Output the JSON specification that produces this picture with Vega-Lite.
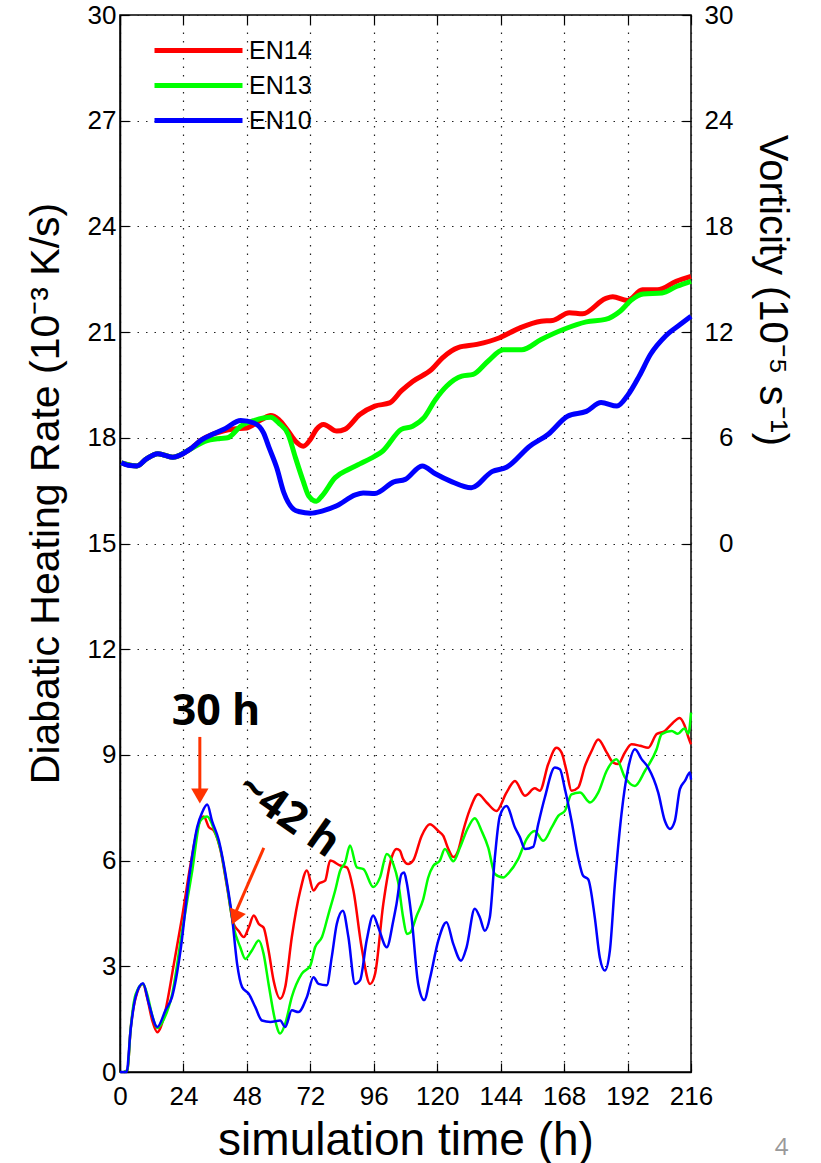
{
  "$schema": "https://vega.github.io/schema/vega-lite/v6.json",
  "width": 571,
  "height": 1057,
  "autosize": {"type": "none"},
  "padding": {"left": 120, "top": 15, "right": 130, "bottom": 91},
  "background": "white",
  "config": {
    "view": {"stroke": "black", "strokeWidth": 1.5},
    "font": "Liberation Sans",
    "axis": {
      "labelFont": "Liberation Sans",
      "labelFontSize": 26,
      "labelColor": "black",
      "labelFlush": false,
      "labelOverlap": false,
      "titleFont": "Liberation Sans",
      "titleFontWeight": "normal",
      "titleColor": "black",
      "domainColor": "black",
      "domainWidth": 1.5,
      "tickColor": "black",
      "tickWidth": 1.2,
      "tickSize": -9,
      "labelPadding": 12,
      "gridColor": "#222",
      "gridDash": [1.5, 7],
      "gridWidth": 1.2,
      "gridOpacity": 1
    },
    "legend": {"labelFont": "Liberation Sans"}
  },
  "datasets": {
    "heat": [
      {"run":"EN14","t":1.5,"v":0},{"run":"EN14","t":2.8,"v":0.05},{"run":"EN14","t":4,"v":1.2},{"run":"EN14","t":5.9,"v":2.1},{"run":"EN14","t":8.7,"v":2.5},{"run":"EN14","t":10.3,"v":2.1},{"run":"EN14","t":12.2,"v":1.46},{"run":"EN14","t":14.1,"v":1.13},{"run":"EN14","t":16.6,"v":1.56},{"run":"EN14","t":20.4,"v":3.07},{"run":"EN14","t":23.5,"v":4.4},{"run":"EN14","t":26.7,"v":5.9},{"run":"EN14","t":29.8,"v":7.04},{"run":"EN14","t":31.7,"v":7.25},{"run":"EN14","t":33.6,"v":6.95},{"run":"EN14","t":35.5,"v":6.85},{"run":"EN14","t":38,"v":6.3},{"run":"EN14","t":40.5,"v":5.25},{"run":"EN14","t":43,"v":4.2},{"run":"EN14","t":44.9,"v":4.0},{"run":"EN14","t":46.8,"v":3.83},{"run":"EN14","t":48.7,"v":4.1},{"run":"EN14","t":50.6,"v":4.44},{"run":"EN14","t":52.5,"v":4.2},{"run":"EN14","t":54.3,"v":4.1},{"run":"EN14","t":56.2,"v":3.45},{"run":"EN14","t":58.1,"v":2.6},{"run":"EN14","t":60.6,"v":2.08},{"run":"EN14","t":62.5,"v":2.41},{"run":"EN14","t":65,"v":3.83},{"run":"EN14","t":68.2,"v":5.15},{"run":"EN14","t":70.7,"v":5.72},{"run":"EN14","t":73.2,"v":5.15},{"run":"EN14","t":75.1,"v":5.34},{"run":"EN14","t":77.6,"v":5.43},{"run":"EN14","t":79.5,"v":6.0},{"run":"EN14","t":83.3,"v":5.86},{"run":"EN14","t":85.8,"v":5.81},{"run":"EN14","t":88.3,"v":5.15},{"run":"EN14","t":91.4,"v":3.54},{"run":"EN14","t":94.6,"v":2.5},{"run":"EN14","t":96.5,"v":2.79},{"run":"EN14","t":99.6,"v":4.77},{"run":"EN14","t":102.8,"v":6.1},{"run":"EN14","t":104.6,"v":6.33},{"run":"EN14","t":105.9,"v":6.28},{"run":"EN14","t":107.1,"v":6.04},{"run":"EN14","t":109,"v":5.9},{"run":"EN14","t":110.9,"v":6.0},{"run":"EN14","t":114.1,"v":6.7},{"run":"EN14","t":117.2,"v":7.03},{"run":"EN14","t":120.4,"v":6.84},{"run":"EN14","t":122.3,"v":6.7},{"run":"EN14","t":124.2,"v":6.33},{"run":"EN14","t":126.1,"v":6.1},{"run":"EN14","t":127.9,"v":6.28},{"run":"EN14","t":129.8,"v":6.84},{"run":"EN14","t":132.4,"v":7.46},{"run":"EN14","t":135.5,"v":7.88},{"run":"EN14","t":138.7,"v":7.65},{"run":"EN14","t":142.4,"v":7.41},{"run":"EN14","t":146.2,"v":7.93},{"run":"EN14","t":149.4,"v":8.26},{"run":"EN14","t":153.2,"v":7.84},{"run":"EN14","t":156.9,"v":8.05},{"run":"EN14","t":158.8,"v":7.98},{"run":"EN14","t":162,"v":8.74},{"run":"EN14","t":165.1,"v":9.2},{"run":"EN14","t":167,"v":9.07},{"run":"EN14","t":168.9,"v":8.55},{"run":"EN14","t":170.8,"v":7.98},{"run":"EN14","t":173.3,"v":8.07},{"run":"EN14","t":175.9,"v":8.69},{"run":"EN14","t":178.4,"v":9.11},{"run":"EN14","t":180.9,"v":9.44},{"run":"EN14","t":184.1,"v":9.07},{"run":"EN14","t":186.6,"v":8.78},{"run":"EN14","t":188.5,"v":8.74},{"run":"EN14","t":191,"v":9.07},{"run":"EN14","t":193.5,"v":9.3},{"run":"EN14","t":196.7,"v":9.26},{"run":"EN14","t":199.8,"v":9.2},{"run":"EN14","t":203,"v":9.59},{"run":"EN14","t":206.1,"v":9.68},{"run":"EN14","t":209,"v":9.9},{"run":"EN14","t":211.7,"v":10.05},{"run":"EN14","t":213.5,"v":9.85},{"run":"EN14","t":215,"v":9.5},{"run":"EN14","t":216,"v":9.3},
      {"run":"EN13","t":1.5,"v":0},{"run":"EN13","t":2.8,"v":0.05},{"run":"EN13","t":4,"v":1.2},{"run":"EN13","t":5.9,"v":2.2},{"run":"EN13","t":8.7,"v":2.5},{"run":"EN13","t":10.3,"v":2.2},{"run":"EN13","t":12.2,"v":1.6},{"run":"EN13","t":14.1,"v":1.25},{"run":"EN13","t":16.6,"v":1.5},{"run":"EN13","t":19.7,"v":2.2},{"run":"EN13","t":23.5,"v":4.0},{"run":"EN13","t":27.3,"v":5.7},{"run":"EN13","t":30.4,"v":7.13},{"run":"EN13","t":33,"v":7.25},{"run":"EN13","t":35.5,"v":6.9},{"run":"EN13","t":38,"v":6.33},{"run":"EN13","t":40.5,"v":5.29},{"run":"EN13","t":43,"v":4.11},{"run":"EN13","t":45.5,"v":3.54},{"run":"EN13","t":47.4,"v":3.21},{"run":"EN13","t":49.9,"v":3.45},{"run":"EN13","t":52.5,"v":3.73},{"run":"EN13","t":54.3,"v":3.36},{"run":"EN13","t":56.2,"v":2.5},{"run":"EN13","t":58.7,"v":1.46},{"run":"EN13","t":60.6,"v":1.09},{"run":"EN13","t":62.5,"v":1.37},{"run":"EN13","t":65,"v":2.13},{"run":"EN13","t":68.8,"v":2.79},{"run":"EN13","t":72,"v":3.02},{"run":"EN13","t":73.8,"v":3.54},{"run":"EN13","t":76.4,"v":3.83},{"run":"EN13","t":78.9,"v":4.49},{"run":"EN13","t":81.4,"v":5.15},{"run":"EN13","t":83.3,"v":5.72},{"run":"EN13","t":85.2,"v":5.95},{"run":"EN13","t":87,"v":6.43},{"run":"EN13","t":89.6,"v":5.81},{"run":"EN13","t":92.1,"v":5.76},{"run":"EN13","t":95.8,"v":5.25},{"run":"EN13","t":98.4,"v":5.53},{"run":"EN13","t":100.9,"v":6.19},{"run":"EN13","t":103.4,"v":5.9},{"run":"EN13","t":105.2,"v":5.4},{"run":"EN13","t":107.1,"v":4.39},{"run":"EN13","t":108.5,"v":3.92},{"run":"EN13","t":109.7,"v":3.95},{"run":"EN13","t":112.2,"v":4.43},{"run":"EN13","t":114.7,"v":4.9},{"run":"EN13","t":116.6,"v":5.52},{"run":"EN13","t":118.5,"v":5.85},{"run":"EN13","t":121,"v":6.0},{"run":"EN13","t":122.9,"v":6.33},{"run":"EN13","t":126.1,"v":5.98},{"run":"EN13","t":128.6,"v":6.37},{"run":"EN13","t":131.7,"v":6.94},{"run":"EN13","t":134.2,"v":7.2},{"run":"EN13","t":136.8,"v":6.84},{"run":"EN13","t":139.3,"v":6.37},{"run":"EN13","t":141.8,"v":5.62},{"run":"EN13","t":145,"v":5.52},{"run":"EN13","t":146.9,"v":5.64},{"run":"EN13","t":150.6,"v":6.04},{"run":"EN13","t":153.8,"v":6.61},{"run":"EN13","t":156.9,"v":6.84},{"run":"EN13","t":160.1,"v":6.56},{"run":"EN13","t":163.3,"v":6.94},{"run":"EN13","t":165.8,"v":7.27},{"run":"EN13","t":168.3,"v":7.41},{"run":"EN13","t":170.8,"v":7.88},{"run":"EN13","t":174,"v":7.93},{"run":"EN13","t":177.8,"v":7.65},{"run":"EN13","t":180.9,"v":7.93},{"run":"EN13","t":184.1,"v":8.55},{"run":"EN13","t":187.8,"v":8.88},{"run":"EN13","t":191,"v":8.36},{"run":"EN13","t":194.8,"v":8.12},{"run":"EN13","t":198.6,"v":8.55},{"run":"EN13","t":203,"v":9.16},{"run":"EN13","t":204.9,"v":9.59},{"run":"EN13","t":208.7,"v":9.68},{"run":"EN13","t":211,"v":9.6},{"run":"EN13","t":213.5,"v":9.75},{"run":"EN13","t":215,"v":9.6},{"run":"EN13","t":216,"v":10.2},
      {"run":"EN10","t":0,"v":0},{"run":"EN10","t":2.5,"v":0},{"run":"EN10","t":4,"v":1.18},{"run":"EN10","t":5.9,"v":2.13},{"run":"EN10","t":8.7,"v":2.52},{"run":"EN10","t":10.9,"v":1.94},{"run":"EN10","t":14.1,"v":1.28},{"run":"EN10","t":17.2,"v":1.75},{"run":"EN10","t":19.7,"v":2.13},{"run":"EN10","t":22.9,"v":3.45},{"run":"EN10","t":26,"v":5.43},{"run":"EN10","t":29.2,"v":6.95},{"run":"EN10","t":31.1,"v":7.37},{"run":"EN10","t":33,"v":7.59},{"run":"EN10","t":34.8,"v":7.13},{"run":"EN10","t":37.4,"v":6.57},{"run":"EN10","t":39.9,"v":5.62},{"run":"EN10","t":42.4,"v":4.39},{"run":"EN10","t":44.3,"v":3.07},{"run":"EN10","t":46.2,"v":2.41},{"run":"EN10","t":48.7,"v":2.22},{"run":"EN10","t":51.2,"v":1.84},{"run":"EN10","t":53.7,"v":1.46},{"run":"EN10","t":56.9,"v":1.42},{"run":"EN10","t":60.6,"v":1.46},{"run":"EN10","t":62.5,"v":1.28},{"run":"EN10","t":65,"v":1.75},{"run":"EN10","t":67.5,"v":1.7},{"run":"EN10","t":70.7,"v":2.13},{"run":"EN10","t":73.2,"v":2.69},{"run":"EN10","t":75.1,"v":2.5},{"run":"EN10","t":78.2,"v":2.46},{"run":"EN10","t":80.1,"v":3.26},{"run":"EN10","t":82,"v":4.2},{"run":"EN10","t":84.3,"v":4.58},{"run":"EN10","t":86.4,"v":3.83},{"run":"EN10","t":88.9,"v":2.5},{"run":"EN10","t":90.8,"v":2.6},{"run":"EN10","t":93.3,"v":3.73},{"run":"EN10","t":95.8,"v":4.44},{"run":"EN10","t":97.7,"v":4.11},{"run":"EN10","t":100.9,"v":3.54},{"run":"EN10","t":103.4,"v":4.3},{"run":"EN10","t":104.6,"v":4.77},{"run":"EN10","t":106.5,"v":5.62},{"run":"EN10","t":107.5,"v":5.66},{"run":"EN10","t":108.4,"v":5.4},{"run":"EN10","t":110.3,"v":4.39},{"run":"EN10","t":112.8,"v":2.5},{"run":"EN10","t":115.1,"v":2.04},{"run":"EN10","t":117.2,"v":2.64},{"run":"EN10","t":120.4,"v":3.73},{"run":"EN10","t":123.5,"v":4.25},{"run":"EN10","t":126.1,"v":3.63},{"run":"EN10","t":129,"v":3.16},{"run":"EN10","t":131.1,"v":3.54},{"run":"EN10","t":134.2,"v":4.63},{"run":"EN10","t":136.1,"v":4.39},{"run":"EN10","t":138,"v":4.01},{"run":"EN10","t":139.9,"v":4.39},{"run":"EN10","t":141.8,"v":6.09},{"run":"EN10","t":143.7,"v":7.27},{"run":"EN10","t":146.2,"v":7.55},{"run":"EN10","t":149.4,"v":6.94},{"run":"EN10","t":151.3,"v":6.66},{"run":"EN10","t":153.2,"v":6.33},{"run":"EN10","t":156.3,"v":6.39},{"run":"EN10","t":158.2,"v":7.03},{"run":"EN10","t":160.7,"v":7.79},{"run":"EN10","t":164.5,"v":8.64},{"run":"EN10","t":166.4,"v":8.59},{"run":"EN10","t":168.3,"v":8.03},{"run":"EN10","t":170.8,"v":7.13},{"run":"EN10","t":173.3,"v":6.09},{"run":"EN10","t":175.2,"v":5.57},{"run":"EN10","t":177.1,"v":5.47},{"run":"EN10","t":179.6,"v":4.39},{"run":"EN10","t":181.5,"v":3.25},{"run":"EN10","t":183.4,"v":2.88},{"run":"EN10","t":185.3,"v":3.44},{"run":"EN10","t":187.2,"v":5.33},{"run":"EN10","t":189.7,"v":7.32},{"run":"EN10","t":192.3,"v":8.64},{"run":"EN10","t":194.8,"v":9.16},{"run":"EN10","t":197.3,"v":8.88},{"run":"EN10","t":199.8,"v":8.64},{"run":"EN10","t":203.6,"v":7.93},{"run":"EN10","t":206.1,"v":7.13},{"run":"EN10","t":208,"v":6.9},{"run":"EN10","t":209.9,"v":7.13},{"run":"EN10","t":211.8,"v":8.03},{"run":"EN10","t":213.7,"v":8.26},{"run":"EN10","t":215.6,"v":8.5},{"run":"EN10","t":216,"v":8.3}
    ],
    "vort": [
      {"run":"EN14","t":0.5,"z":4.58},{"run":"EN14","t":6.4,"z":4.4},{"run":"EN14","t":10,"z":4.8},{"run":"EN14","t":14.3,"z":5.1},{"run":"EN14","t":20,"z":4.9},{"run":"EN14","t":26.4,"z":5.34},{"run":"EN14","t":31,"z":5.9},{"run":"EN14","t":35,"z":6.2},{"run":"EN14","t":39.3,"z":6.4},{"run":"EN14","t":43,"z":6.5},{"run":"EN14","t":47.9,"z":6.56},{"run":"EN14","t":53.6,"z":7.04},{"run":"EN14","t":57,"z":7.26},{"run":"EN14","t":60,"z":7.04},{"run":"EN14","t":63.6,"z":6.38},{"run":"EN14","t":66.4,"z":5.8},{"run":"EN14","t":69.3,"z":5.52},{"run":"EN14","t":72,"z":5.9},{"run":"EN14","t":74.3,"z":6.48},{"run":"EN14","t":77,"z":6.76},{"run":"EN14","t":82,"z":6.38},{"run":"EN14","t":85,"z":6.48},{"run":"EN14","t":90.7,"z":7.32},{"run":"EN14","t":96.4,"z":7.8},{"run":"EN14","t":102,"z":7.98},{"run":"EN14","t":106.4,"z":8.66},{"run":"EN14","t":110.7,"z":9.2},{"run":"EN14","t":117.9,"z":9.88},{"run":"EN14","t":122,"z":10.54},{"run":"EN14","t":127.9,"z":11.12},{"run":"EN14","t":135,"z":11.3},{"run":"EN14","t":143.6,"z":11.68},{"run":"EN14","t":150.7,"z":12.2},{"run":"EN14","t":159.3,"z":12.62},{"run":"EN14","t":163.6,"z":12.66},{"run":"EN14","t":170,"z":13.1},{"run":"EN14","t":175,"z":13.04},{"run":"EN14","t":183.6,"z":13.9},{"run":"EN14","t":186.4,"z":14.0},{"run":"EN14","t":192,"z":13.8},{"run":"EN14","t":197.6,"z":14.4},{"run":"EN14","t":203.3,"z":14.4},{"run":"EN14","t":210.4,"z":14.88},{"run":"EN14","t":216,"z":15.16},
      {"run":"EN13","t":0.5,"z":4.58},{"run":"EN13","t":6.4,"z":4.4},{"run":"EN13","t":10,"z":4.8},{"run":"EN13","t":14.3,"z":5.1},{"run":"EN13","t":20,"z":4.9},{"run":"EN13","t":26.4,"z":5.34},{"run":"EN13","t":32.1,"z":5.8},{"run":"EN13","t":37.9,"z":5.96},{"run":"EN13","t":40.7,"z":6.0},{"run":"EN13","t":45.7,"z":6.66},{"run":"EN13","t":50.7,"z":6.98},{"run":"EN13","t":57,"z":7.16},{"run":"EN13","t":60,"z":6.84},{"run":"EN13","t":63.6,"z":6.2},{"run":"EN13","t":66.4,"z":4.86},{"run":"EN13","t":69.3,"z":3.54},{"run":"EN13","t":71.4,"z":2.7},{"run":"EN13","t":74.3,"z":2.4},{"run":"EN13","t":76.4,"z":2.7},{"run":"EN13","t":81.4,"z":3.74},{"run":"EN13","t":86.4,"z":4.2},{"run":"EN13","t":90.7,"z":4.52},{"run":"EN13","t":96.4,"z":4.96},{"run":"EN13","t":99.3,"z":5.24},{"run":"EN13","t":106.4,"z":6.48},{"run":"EN13","t":110.7,"z":6.66},{"run":"EN13","t":115,"z":7.14},{"run":"EN13","t":119.3,"z":8.16},{"run":"EN13","t":123.6,"z":8.94},{"run":"EN13","t":129.3,"z":9.5},{"run":"EN13","t":133.6,"z":9.6},{"run":"EN13","t":139.3,"z":10.36},{"run":"EN13","t":145,"z":11.0},{"run":"EN13","t":152,"z":11.0},{"run":"EN13","t":159.3,"z":11.58},{"run":"EN13","t":167.9,"z":12.16},{"run":"EN13","t":176.4,"z":12.58},{"run":"EN13","t":183.6,"z":12.72},{"run":"EN13","t":189.3,"z":13.2},{"run":"EN13","t":193.6,"z":13.84},{"run":"EN13","t":197.9,"z":14.16},{"run":"EN13","t":205,"z":14.22},{"run":"EN13","t":210.7,"z":14.6},{"run":"EN13","t":216,"z":14.88},
      {"run":"EN10","t":0.5,"z":4.58},{"run":"EN10","t":3,"z":4.44},{"run":"EN10","t":6.4,"z":4.4},{"run":"EN10","t":10,"z":4.8},{"run":"EN10","t":14.3,"z":5.1},{"run":"EN10","t":17,"z":5.0},{"run":"EN10","t":20,"z":4.9},{"run":"EN10","t":26.4,"z":5.34},{"run":"EN10","t":31,"z":5.9},{"run":"EN10","t":35,"z":6.2},{"run":"EN10","t":39.3,"z":6.48},{"run":"EN10","t":45.7,"z":6.98},{"run":"EN10","t":50.7,"z":6.84},{"run":"EN10","t":54.3,"z":6.28},{"run":"EN10","t":56.4,"z":5.44},{"run":"EN10","t":59.3,"z":4.3},{"run":"EN10","t":62,"z":2.88},{"run":"EN10","t":65.7,"z":1.94},{"run":"EN10","t":68,"z":1.8},{"run":"EN10","t":72,"z":1.72},{"run":"EN10","t":76.4,"z":1.84},{"run":"EN10","t":82,"z":2.14},{"run":"EN10","t":89,"z":2.76},{"run":"EN10","t":92,"z":2.86},{"run":"EN10","t":96.4,"z":2.84},{"run":"EN10","t":103.6,"z":3.5},{"run":"EN10","t":107.9,"z":3.64},{"run":"EN10","t":114.3,"z":4.4},{"run":"EN10","t":119.3,"z":3.96},{"run":"EN10","t":125,"z":3.54},{"run":"EN10","t":132.9,"z":3.16},{"run":"EN10","t":140.7,"z":4.08},{"run":"EN10","t":146.4,"z":4.34},{"run":"EN10","t":155,"z":5.52},{"run":"EN10","t":162,"z":6.2},{"run":"EN10","t":169.3,"z":7.22},{"run":"EN10","t":176.4,"z":7.5},{"run":"EN10","t":182,"z":8.0},{"run":"EN10","t":188,"z":7.8},{"run":"EN10","t":192,"z":8.4},{"run":"EN10","t":196.4,"z":9.5},{"run":"EN10","t":200.7,"z":10.74},{"run":"EN10","t":206.4,"z":11.78},{"run":"EN10","t":212,"z":12.44},{"run":"EN10","t":216,"z":12.9}
    ]
  },
  "layer": [
    {
      "data": {"name": "heat"},
      "mark": {"type": "line", "strokeWidth": 2.5, "interpolate": "monotone"},
      "encoding": {
        "x": {"field": "t", "type": "quantitative",
          "scale": {"domain": [0, 216], "nice": false},
          "axis": {"values": [0,24,48,72,96,120,144,168,192,216], "labelPadding": 20, "title": "simulation time (h)", "titleFontSize": 46, "titlePadding": 9, "grid": true}},
        "y": {"field": "v", "type": "quantitative",
          "scale": {"domain": [0, 30], "nice": false},
          "axis": {"values": [0,3,6,9,12,15,18,21,24,27,30], "labelPadding": 13, "title": "Diabatic Heating Rate (10⁻³ K/s)", "titleFontSize": 41, "titleX": -74, "titleY": 478, "titleAngle": -90, "titleAlign": "center", "titleBaseline": "middle", "grid": true}},
        "color": {"field": "run", "type": "nominal", "scale": {"domain": ["EN14","EN13","EN10"], "range": ["#ff0000","#00ff00","#0000ff"]},
          "legend": {"orient": "none", "legendX": 21, "legendY": 22, "title": null, "symbolType": "M0,0H8", "symbolSize": 484, "symbolStrokeWidth": 5, "labelFontSize": 25, "labelColor": "black", "labelOffset": 81, "rowPadding": 8, "padding": 0}}
      }
    },
    {
      "data": {"name": "vort"},
      "mark": {"type": "line", "strokeWidth": 5, "interpolate": "monotone"},
      "encoding": {
        "x": {"field": "t", "type": "quantitative",
          "scale": {"domain": [0, 216], "nice": false},
          "axis": {"orient": "top", "values": [0,24,48,72,96,120,144,168,192,216], "labels": false, "title": null, "grid": false, "domain": false}},
        "y": {"field": "z", "type": "quantitative",
          "scale": {"domain": [-30, 30], "nice": false},
          "axis": {"orient": "right", "values": [0,6,12,18,24,30], "labelAlign": "right", "labelPadding": 51, "title": "Vorticity (10⁻⁵ s⁻¹)", "titleFontSize": 40, "titleX": 80, "titleY": 275, "titleAngle": 90, "titleAlign": "center", "titleBaseline": "middle", "grid": false, "domain": false}},
        "color": {"field": "run", "type": "nominal", "scale": {"domain": ["EN14","EN13","EN10"], "range": ["#ff0000","#00ff00","#0000ff"]},
          "legend": {"orient": "none", "legendX": 21, "legendY": 22, "title": null, "symbolType": "M0,0H8", "symbolSize": 484, "symbolStrokeWidth": 5, "labelFontSize": 25, "labelColor": "black", "labelOffset": 81, "rowPadding": 8, "padding": 0}}
      }
    },
    {
      "data": {"values": [{"t":30.2,"v":9.51,"t2":30.2,"v2":7.9},{"t":54.4,"v":6.36,"t2":43.6,"v2":4.5}]},
      "mark": {"type": "rule", "color": "#ff3300", "strokeWidth": 3},
      "encoding": {
        "x": {"field": "t", "type": "quantitative", "scale": {"domain": [0, 216], "nice": false}, "axis": null},
        "y": {"field": "v", "type": "quantitative", "scale": {"domain": [0, 30], "nice": false}, "axis": null},
        "x2": {"field": "t2"},
        "y2": {"field": "v2"}
      }
    },
    {
      "data": {"values": [{"t": 30.2, "v": 7.83}]},
      "mark": {"type": "point", "shape": "triangle-down", "filled": true, "color": "#ff3300", "opacity": 1, "size": 300, "angle": 0},
      "encoding": {
        "x": {"field": "t", "type": "quantitative", "scale": {"domain": [0, 216], "nice": false}, "axis": null},
        "y": {"field": "v", "type": "quantitative", "scale": {"domain": [0, 30], "nice": false}, "axis": null}
      }
    },
    {
      "data": {"values": [{"t": 43.5, "v": 4.38}]},
      "mark": {"type": "point", "shape": "triangle-down", "filled": true, "color": "#ff3300", "opacity": 1, "size": 300, "angle": 22.6},
      "encoding": {
        "x": {"field": "t", "type": "quantitative", "scale": {"domain": [0, 216], "nice": false}, "axis": null},
        "y": {"field": "v", "type": "quantitative", "scale": {"domain": [0, 30], "nice": false}, "axis": null}
      }
    },
    {
      "data": {"values": [{"label": "30 h", "t": 36.3, "v": 9.85}]},
      "mark": {"type": "text", "font": "Open Sans", "fontWeight": "bold", "fontSize": 43, "color": "black", "align": "center", "baseline": "alphabetic"},
      "encoding": {
        "x": {"field": "t", "type": "quantitative", "scale": {"domain": [0, 216], "nice": false}, "axis": null},
        "y": {"field": "v", "type": "quantitative", "scale": {"domain": [0, 30], "nice": false}, "axis": null},
        "text": {"field": "label"}
      }
    },
    {
      "data": {"values": [{"label": "~42 h", "t": 63.7, "v": 7.28}]},
      "mark": {"type": "text", "font": "Open Sans", "fontWeight": "bold", "fontSize": 43, "color": "black", "align": "center", "baseline": "middle", "angle": 35},
      "encoding": {
        "x": {"field": "t", "type": "quantitative", "scale": {"domain": [0, 216], "nice": false}, "axis": null},
        "y": {"field": "v", "type": "quantitative", "scale": {"domain": [0, 30], "nice": false}, "axis": null},
        "text": {"field": "label"}
      }
    },
    {
      "data": {"values": [{"label": "4", "t": 250.3, "v": -2.5}]},
      "mark": {"type": "text", "font": "Open Sans", "fontSize": 24, "color": "#999999", "align": "center", "baseline": "bottom"},
      "encoding": {
        "x": {"field": "t", "type": "quantitative", "scale": {"domain": [0, 216], "nice": false}, "axis": null},
        "y": {"field": "v", "type": "quantitative", "scale": {"domain": [0, 30], "nice": false}, "axis": null},
        "text": {"field": "label"}
      }
    }
  ],
  "resolve": {"scale": {"y": "independent"}, "axis": {"x": "independent"}}
}
